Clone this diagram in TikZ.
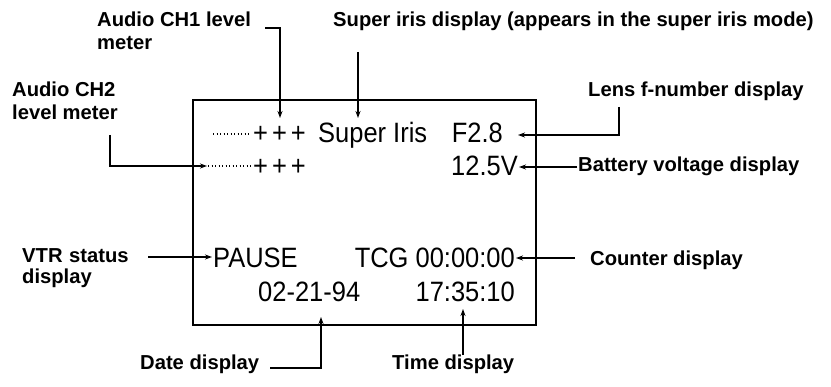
\documentclass[tikz,border=0pt]{standalone}
\usepackage{fontspec}
\setmainfont{Liberation Sans}
\newfontfamily\dispfont[FakeStretch=0.91]{Liberation Sans}
\usetikzlibrary{arrows.meta}
\begin{document}
\begin{tikzpicture}[x=1pt,y=-1pt,
  lbl/.style={font=\bfseries\fontsize{20.2}{23}\selectfont, inner sep=0pt, anchor=base west},
  disp/.style={font=\dispfont\fontsize{28}{30}\selectfont, inner sep=0pt, anchor=base west},
  dispr/.style={disp, anchor=base east},
  conn/.style={line width=1.5pt},
  arr/.style={conn, -{Stealth[length=7pt,width=5pt]}},
  lead/.style={line width=1.3pt, dash pattern=on 1.3pt off 2.2pt}]
\useasboundingbox (0,0) rectangle (831,387);
% screen frame
\node[draw, line width=1.5pt, inner sep=0pt, minimum width=343pt, minimum height=225pt] (scr) at (364.5,212.5) {};
% labels
\node[lbl] (ch1a) at (97,27) {Audio CH1 level};
\node[lbl] (ch1b) at (97,50) {meter};
\node[lbl] (sup) at (333,27) {Super iris display (appears in the super iris mode)};
\node[lbl] (ch2a) at (12,97) {Audio CH2};
\node[lbl] (ch2b) at (12,120) {level meter};
\node[lbl] (lens) at (588,97) {Lens f-number display};
\node[lbl] (bat) at (578,172) {Battery voltage display};
\node[lbl] (vtra) at (22,263) {VTR\hspace{1pt} status};
\node[lbl] (vtrb) at (22,284) {display};
\node[lbl] (cnt) at (590,266) {Counter display};
\node[lbl] (date) at (140,370) {Date display};
\node[lbl] (time) at (392,370) {Time display};
% display contents
\node[disp] (p1) at (253,143) {+\kern4pt+\kern4pt+};
\node[disp] (si) at (318,143) {Super Iris};
\node[dispr] (f28) at (503,143) {F2.8};
\node[disp] (p2) at (253,176) {+\kern4pt+\kern4pt+};
\node[dispr] (volt) at (518,176) {12.5V};
\node[disp] (pause) at (213,268) {PAUSE};
\node[dispr] (tcg) at (515,268) {TCG 00:00:00};
\node[disp] (dt) at (258,302) {02-21-94};
\node[dispr] (tm) at (515,302) {17:35:10};
% leader dots
\coordinate (d1s) at (213,134); \coordinate (d1e) at (251,134);
\coordinate (d2s) at (208,166); \coordinate (d2e) at (251,166);
\draw[lead] (d1s) -- (d1e);
\draw[lead] (d2s) -- (d2e);
% connectors
\coordinate (ch1s) at (265,28); \coordinate (ch1k) at (280,28); \coordinate (ch1t) at (280,118);
\draw[arr] (ch1s) -- (ch1k) -- (ch1t);
\coordinate (sups) at (358,52); \coordinate (supt) at (358,118);
\draw[arr] (sups) -- (supt);
\coordinate (ch2s) at (110,135); \coordinate (ch2k) at (110,166); \coordinate (ch2t) at (207,166);
\draw[arr] (ch2s) -- (ch2k) -- (ch2t);
\coordinate (lenss) at (619,107); \coordinate (lensk) at (619,135); \coordinate (lenst) at (518,135);
\draw[arr] (lenss) -- (lensk) -- (lenst);
\coordinate (bats) at (577,167); \coordinate (batt) at (519,167);
\draw[arr] (bats) -- (batt);
\coordinate (vtrs) at (148,257); \coordinate (vtrt) at (212,257);
\draw[arr] (vtrs) -- (vtrt);
\coordinate (cnts) at (575,258); \coordinate (cntt) at (516,258);
\draw[arr] (cnts) -- (cntt);
\coordinate (dates) at (270,368); \coordinate (datek) at (321,368); \coordinate (datet) at (321,317);
\draw[arr] (dates) -- (datek) -- (datet);
\coordinate (times) at (463,355); \coordinate (timet) at (463,309);
\draw[arr] (times) -- (timet);
\end{tikzpicture}
\end{document}
